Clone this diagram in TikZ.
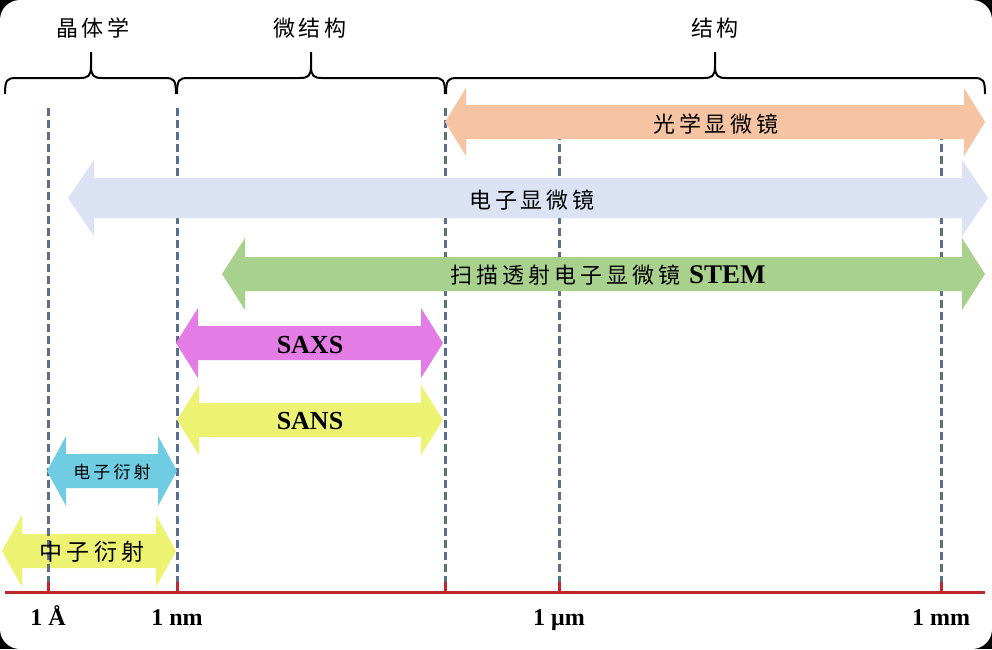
\documentclass[tikz,border=0pt]{standalone}
\usepackage{fontspec}
\setmainfont{Liberation Serif}
\newfontfamily\cjk[LetterSpace=18]{Noto Sans CJK SC}

\definecolor{opticcol}{HTML}{F6C3A3}
\definecolor{emcol}{HTML}{DAE2F3}
\definecolor{stemcol}{HTML}{A9D18E}
\definecolor{saxscol}{HTML}{E47CE6}
\definecolor{sanscol}{HTML}{EEF272}
\definecolor{edcol}{HTML}{6FCCE2}
\definecolor{guidecol}{HTML}{5A6E8E}
\definecolor{axiscol}{HTML}{C0272D}

\tikzset{
  guide/.style={guidecol, line width=3pt, dash pattern=on 8pt off 4pt},
  bracepath/.style={black, line width=2pt},
  zh/.style={font=\cjk\fontsize{22}{26}\selectfont, inner sep=0pt},
  lat/.style={font=\bfseries\fontsize{26}{30}\selectfont, inner sep=0pt},
  ticklabel/.style={font=\bfseries\fontsize{24}{28}\selectfont, inner sep=0pt, anchor=base},
}

\begin{document}
\begin{tikzpicture}[x=1pt,y=-1pt]
\useasboundingbox (0,0) rectangle (992,649);
\fill[black] (0,0) rectangle (992,649);
\fill[white, rounded corners=20pt] (0,0) rectangle (992,649);

% neutron diffraction arrow sits under the guide lines
\fill[sanscol] (2,551) -- (22,515) -- (22,534) -- (156,534) -- (156,515)
  -- (176,551) -- (156,587) -- (156,568) -- (22,568) -- (22,587) -- cycle;

% guide lines
\draw[guide] (48,108) -- (48,584);
\draw[guide] (177,108) -- (177,584);
\draw[guide] (445,108) -- (445,584);
\draw[guide] (559,108) -- (559,584);
\draw[guide] (941,108) -- (941,584);

% arrows
\fill[opticcol] (445,122) -- (466,88) -- (466,105) -- (964,105) -- (964,88)
  -- (985,122) -- (964,156) -- (964,139) -- (466,139) -- (466,156) -- cycle;
\fill[emcol] (68,198) -- (94,160) -- (94,178) -- (962,178) -- (962,160)
  -- (988,198) -- (962,236) -- (962,218) -- (94,218) -- (94,236) -- cycle;
\fill[stemcol] (222,274) -- (245,238) -- (245,257) -- (962,257) -- (962,238)
  -- (985,274) -- (962,310) -- (962,291) -- (245,291) -- (245,310) -- cycle;
\fill[saxscol] (176,343) -- (198,308) -- (198,326) -- (421,326) -- (421,308)
  -- (443,343) -- (421,378) -- (421,360) -- (198,360) -- (198,378) -- cycle;
\fill[sanscol] (177,420) -- (199,385) -- (199,403) -- (421,403) -- (421,385)
  -- (443,420) -- (421,455) -- (421,437) -- (199,437) -- (199,455) -- cycle;
\fill[edcol] (47,471) -- (66,436) -- (66,454) -- (158,454) -- (158,436)
  -- (177,471) -- (158,506) -- (158,488) -- (66,488) -- (66,506) -- cycle;

\node[zh] (optic) at (716,124) {光学显微镜};
\node[zh] (em) at (532,200) {电子显微镜};
\node[zh] (stem) at (608,275) {扫描透射电子显微镜 {\rmfamily\bfseries\fontsize{27}{30}\selectfont STEM}};
\node[lat] (saxs) at (310,345) {SAXS};
\node[lat] (sans) at (310,421) {SANS};
\node[zh, font=\cjk\fontsize{17}{20}\selectfont] (ed) at (112,472) {电子衍射};
\node[zh, font=\cjk\fontsize{23}{27}\selectfont] (nd) at (92,552) {中子衍射};

% braces
\node[zh] (cryst) at (93,28) {晶体学};
\node[zh] (micro) at (310,28) {微结构};
\node[zh] (struct) at (715,28) {结构};
\draw[bracepath] (5,94) .. controls (5,80) and (7,78) .. (16,78) -- (80,78)
  .. controls (88,78) and (91,76) .. (91,66) -- (91,52)
  (91,66) .. controls (91,76) and (94,78) .. (102,78) -- (165,78)
  .. controls (174,78) and (176,80) .. (176,94);
\draw[bracepath] (177,94) .. controls (177,80) and (179,78) .. (188,78) -- (300,78)
  .. controls (308,78) and (311,76) .. (311,66) -- (311,52)
  (311,66) .. controls (311,76) and (314,78) .. (322,78) -- (434,78)
  .. controls (443,78) and (445,80) .. (445,94);
\draw[bracepath] (446,94) .. controls (446,80) and (448,78) .. (457,78) -- (704,78)
  .. controls (712,78) and (715,76) .. (715,66) -- (715,52)
  (715,66) .. controls (715,76) and (718,78) .. (726,78) -- (974,78)
  .. controls (983,78) and (985,80) .. (985,94);

% scale axis
\draw[axiscol, line width=3pt] (5,592) -- (985,592);
\draw[axiscol, line width=3pt] (48,582) -- (48,592) (177,582) -- (177,592)
  (445,582) -- (445,592) (559,582) -- (559,592) (941,582) -- (941,592);
\node[ticklabel] (ang) at (48,625) {1 Å};
\node[ticklabel] (nm) at (177,625) {1 nm};
\node[ticklabel] (um) at (559,625) {1 μm};
\node[ticklabel] (mm) at (941,625) {1 mm};
\end{tikzpicture}
\end{document}
